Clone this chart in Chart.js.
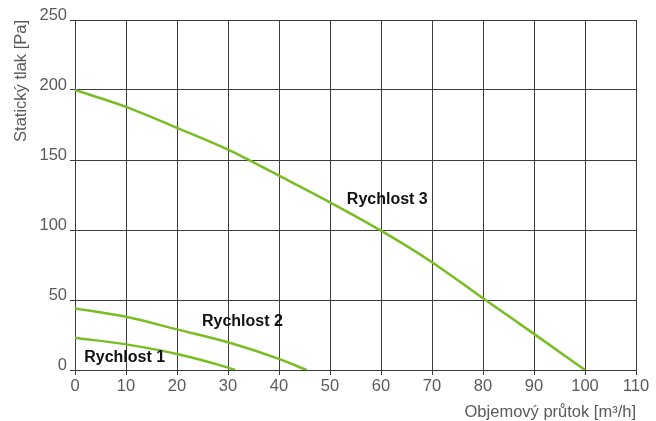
<!DOCTYPE html>
<html>
<head>
<meta charset="utf-8">
<script src="https://cdn.jsdelivr.net/npm/chart.js@4/dist/chart.umd.min.js"></script>
<style>
  body { margin: 0; background: #fff; }
</style>
</head>
<body>
<canvas id="myChart" width="656" height="421"></canvas>
<script>
// curves: [flow m3/h, pressure Pa]
const speed1 = [[0, 23], [10, 18.3], [20, 11.4], [30, 1.7], [31.4, 0]];
const speed2 = [[0, 44], [10, 38], [20, 29], [30, 19.8], [40, 7.9], [45.4, 0]];
const speed3 = [[0, 200], [10, 188], [20, 173], [30, 157.4], [40, 138.8], [50, 119.8], [60, 99.5], [70, 77], [80, 51.2], [90, 25.8], [100, 0]];

const curveNames = ["Rychlost 1", "Rychlost 2", "Rychlost 3"];
// where each name sits, in data units (left edge, vertical middle)
const labelSpots = [[1.8, 8.6], [24.9, 34.3], [53.3, 121.4]];

const xTicks = [0, 10, 20, 30, 40, 50, 60, 70, 80, 90, 100, 110];
const yTicks = [0, 50, 100, 150, 200, 250];

const green = "#78bd22";
const gridColor = "#3c3c3c";
const textGray = "#5a5a5a";
const fontFamily = "'Liberation Sans', Arial, sans-serif";

function toPoints(arr) {
  return arr.map(p => ({ x: p[0], y: p[1] }));
}

const curveLabels = {
  id: "curveLabels",
  afterDatasetsDraw(chart) {
    const ctx = chart.ctx;
    const xs = chart.scales.x, ys = chart.scales.y;
    ctx.save();
    ctx.font = "bold 16px " + fontFamily;
    ctx.fillStyle = "#111";
    ctx.textAlign = "left";
    ctx.textBaseline = "middle";
    curveNames.forEach((name, i) => {
      ctx.fillText(name, xs.getPixelForValue(labelSpots[i][0]), ys.getPixelForValue(labelSpots[i][1]));
    });
    ctx.restore();
  }
};

const ctx = document.getElementById("myChart");
new Chart(ctx, {
  type: "line",
  data: {
    datasets: [speed1, speed2, speed3].map((d, i) => ({
      label: curveNames[i],
      data: toPoints(d),
      borderColor: green,
      borderWidth: 2.5,
      pointRadius: 0,
      fill: false,
      cubicInterpolationMode: "monotone"
    }))
  },
  options: {
    responsive: false,
    animation: false,
    layout: { padding: 0 },
    plugins: { legend: { display: false }, tooltip: { enabled: false } },
    scales: {
      x: {
        type: "linear",
        min: 0,
        max: 110,
        afterBuildTicks: s => { s.ticks = xTicks.map(v => ({ value: v })); },
        afterFit: s => { s.height = 51; s.paddingRight = 20; s.paddingLeft = 0; },
        grid: { color: gridColor, lineWidth: 1, tickLength: 5 },
        border: { color: gridColor },
        ticks: { color: textGray, padding: 2, maxRotation: 0, font: { family: fontFamily, size: 16.5 } },
        title: {
          display: true,
          text: "Objemový průtok [m³/h]",
          align: "end",
          color: textGray,
          padding: 0,
          font: { family: fontFamily, size: 16.5, lineHeight: 1 }
        }
      },
      y: {
        min: 0,
        max: 250,
        afterBuildTicks: s => { s.ticks = yTicks.map(v => ({ value: v })); },
        afterFit: s => { s.width = 75; s.paddingTop = 20; },
        grid: { color: gridColor, lineWidth: 1, tickLength: 5 },
        border: { color: gridColor },
        ticks: { color: textGray, padding: 3, labelOffset: -5, font: { family: fontFamily, size: 16.5 } },
        title: {
          display: true,
          text: "Statický tlak [Pa]",
          align: "end",
          color: textGray,
          padding: { top: 12, bottom: 0 },
          font: { family: fontFamily, size: 16.5, lineHeight: 1.2 }
        }
      }
    }
  },
  plugins: [curveLabels]
});
</script>
</body>
</html>
